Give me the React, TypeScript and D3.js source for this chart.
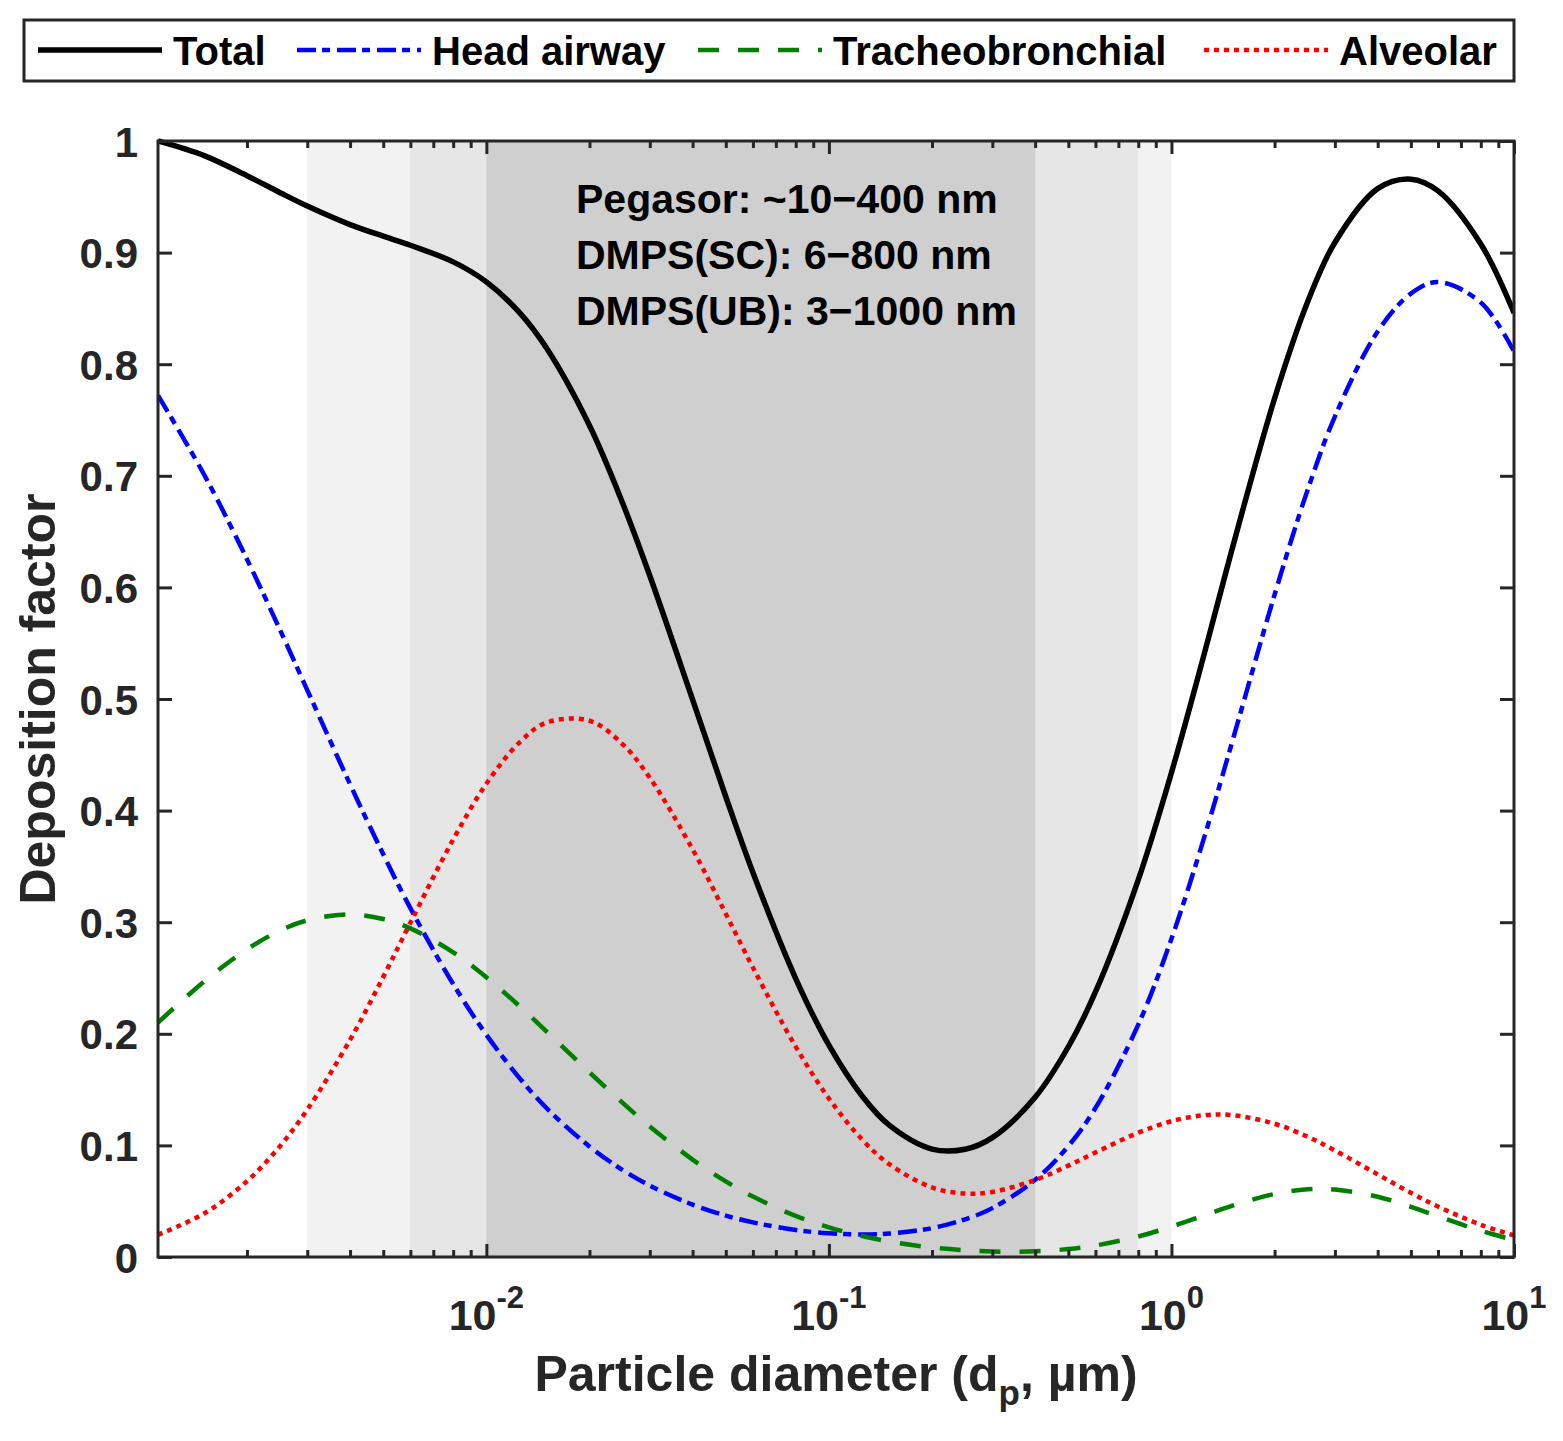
import React, { useEffect, useRef } from "react";
import * as d3 from "d3";

const diameters = [0.0011, 0.0015, 0.002, 0.0025, 0.003, 0.004, 0.005, 0.006, 0.008, 0.01, 0.0125, 0.015, 0.02, 0.025, 0.03, 0.04, 0.05, 0.06, 0.08, 0.1, 0.125, 0.15, 0.2, 0.25, 0.3, 0.4, 0.5, 0.6, 0.8, 1, 1.25, 1.5, 2, 2.5, 3, 4, 5, 6, 8, 10];

const totalDeposition = [1.0, 0.9869, 0.9689, 0.9537, 0.9417, 0.9251, 0.9147, 0.9066, 0.8917, 0.8738, 0.8462, 0.8142, 0.745, 0.6754, 0.6104, 0.4995, 0.4124, 0.3445, 0.2495, 0.1898, 0.1443, 0.1181, 0.0967, 0.0966, 0.107, 0.1432, 0.1884, 0.2375, 0.338, 0.434, 0.5418, 0.6333, 0.7693, 0.8561, 0.9091, 0.9573, 0.9658, 0.9553, 0.9077, 0.8459];
const headAirway = [0.772, 0.701, 0.6253, 0.5617, 0.508, 0.4236, 0.3608, 0.3126, 0.2446, 0.1991, 0.1603, 0.1333, 0.099, 0.0779, 0.064, 0.0469, 0.0371, 0.031, 0.0242, 0.0212, 0.0202, 0.021, 0.0259, 0.0338, 0.0438, 0.0691, 0.0994, 0.1335, 0.2082, 0.2851, 0.3773, 0.4603, 0.5934, 0.6877, 0.7531, 0.8293, 0.8633, 0.8736, 0.8553, 0.8114];
const tracheobronchial = [0.21, 0.2469, 0.2757, 0.2925, 0.3017, 0.3069, 0.3029, 0.2945, 0.273, 0.2506, 0.2247, 0.202, 0.1655, 0.1381, 0.117, 0.0873, 0.0678, 0.0541, 0.0368, 0.0266, 0.0188, 0.0139, 0.0085, 0.006, 0.0049, 0.0051, 0.0071, 0.0103, 0.0184, 0.0272, 0.0374, 0.0458, 0.0565, 0.0607, 0.0605, 0.054, 0.045, 0.0365, 0.0235, 0.0152];
const alveolar = [0.0199, 0.039, 0.0679, 0.0995, 0.132, 0.1946, 0.251, 0.2995, 0.3741, 0.4241, 0.4612, 0.4789, 0.4805, 0.4594, 0.4294, 0.3653, 0.3075, 0.2594, 0.1885, 0.142, 0.1053, 0.0832, 0.0623, 0.0568, 0.0583, 0.069, 0.0819, 0.0937, 0.1114, 0.1217, 0.1271, 0.1272, 0.1194, 0.1077, 0.0955, 0.074, 0.0575, 0.0452, 0.0289, 0.0193];

const seriesNames = ["Total", "Head airway", "Tracheobronchial", "Alveolar"];

// instrument size ranges (µm), widest first
const rangeLow = [0.003, 0.006, 0.01];
const rangeHigh = [1, 0.8, 0.4];
const rangeText = ["Pegasor: ~10\u2212400 nm", "DMPS(SC): 6\u2212800 nm", "DMPS(UB): 3\u22121000 nm"];

const yTicks = [0, 0.1, 0.2, 0.3, 0.4, 0.5, 0.6, 0.7, 0.8, 0.9, 1];
const xMajorTicks = [0.01, 0.1, 1, 10];
const xMajorExponents = ["-2", "-1", "0", "1"];

const W = 1563;
const H = 1441;
const FONT = '"Liberation Sans", Arial, Helvetica, sans-serif';
const AXIS = "#262626";

export default function App() {
  const ref = useRef<SVGSVGElement>(null);

  useEffect(() => {
    document.body.style.margin = "0";
    const svg = d3.select(ref.current);
    svg.selectAll("*").remove();

    const left = 158, right = 1514, top = 141, bottom = 1257;
    const x = d3.scaleLog().domain([0.0011, 10]).range([left, right]);
    const y = d3.scaleLinear().domain([0, 1]).range([bottom, top]);

    svg.append("defs").append("clipPath").attr("id", "plotclip")
      .append("rect").attr("x", left).attr("y", top - 3).attr("width", right - left).attr("height", bottom - top + 3);

    // shaded size ranges
    const shades = ["#f2f2f2", "#e6e6e6", "#cfcfcf"];
    svg.append("g").selectAll("rect").data(rangeLow).join("rect")
      .attr("x", d => x(d))
      .attr("width", (d, i) => x(rangeHigh[i]) - x(d))
      .attr("y", top)
      .attr("height", bottom - top)
      .attr("fill", (d, i) => shades[i]);

    const styles = [
      { color: "#000000", width: 5.5, dash: null },
      { color: "#0000ff", width: 4.5, dash: "19,6,8,7" },
      { color: "#008000", width: 4.5, dash: "21,19" },
      { color: "#ff0000", width: 4.5, dash: "5,5" },
    ];
    const allSeries = [totalDeposition, headAirway, tracheobronchial, alveolar];

    const line = d3.line<number>()
      .x((d, i) => x(diameters[i]))
      .y(d => y(d))
      .curve(d3.curveCatmullRom.alpha(0.5));

    svg.append("g").attr("clip-path", "url(#plotclip)")
      .selectAll("path").data(allSeries).join("path")
      .attr("d", d => line(d))
      .attr("fill", "none")
      .attr("stroke", (d, i) => styles[i].color)
      .attr("stroke-width", (d, i) => styles[i].width)
      .attr("stroke-dasharray", (d, i) => styles[i].dash)
      .attr("stroke-linejoin", "round");

    // range annotation
    svg.append("g").selectAll("text").data(rangeText).join("text")
      .attr("x", 576)
      .attr("y", (d, i) => 213 + i * 56)
      .attr("font-family", FONT)
      .attr("font-weight", "bold")
      .attr("font-size", 41)
      .attr("fill", "#000")
      .text(d => d);

    // axes
    const styleAxis = (g: any) => {
      g.select(".domain").remove();
      g.selectAll("line").attr("stroke", AXIS).attr("stroke-width", 3);
    };

    const minorTicks = x.ticks().filter(v => !xMajorTicks.some(m => Math.abs(m - v) < 1e-9));

    svg.append("g").attr("transform", `translate(0,${bottom})`)
      .call(d3.axisBottom(x).tickValues(xMajorTicks).tickSize(-13).tickFormat(() => ""))
      .call(styleAxis);
    svg.append("g").attr("transform", `translate(0,${bottom})`)
      .call(d3.axisBottom(x).tickValues(minorTicks).tickSize(-7).tickFormat(() => ""))
      .call(styleAxis);
    svg.append("g").attr("transform", `translate(0,${top})`)
      .call(d3.axisTop(x).tickValues(xMajorTicks).tickSize(-13).tickFormat(() => ""))
      .call(styleAxis);
    svg.append("g").attr("transform", `translate(0,${top})`)
      .call(d3.axisTop(x).tickValues(minorTicks).tickSize(-7).tickFormat(() => ""))
      .call(styleAxis);

    const yAxis = svg.append("g").attr("transform", `translate(${left},0)`)
      .call(d3.axisLeft(y).tickValues(yTicks).tickSize(-14).tickPadding(20).tickFormat(d3.format(".1~f") as any))
      .call(styleAxis);
    yAxis.attr("font-family", FONT).attr("font-size", 42).attr("font-weight", "bold");
    yAxis.selectAll("text").attr("fill", AXIS).attr("dy", "0.36em");

    svg.append("g").attr("transform", `translate(${right},0)`)
      .call(d3.axisRight(y).tickValues(yTicks).tickSize(-14).tickFormat(() => ""))
      .call(styleAxis);

    // x tick labels as powers of ten
    const xLabels = svg.append("g").selectAll("text").data(xMajorTicks).join("text")
      .attr("x", d => x(d))
      .attr("y", 1330)
      .attr("text-anchor", "middle")
      .attr("font-family", FONT)
      .attr("font-weight", "bold")
      .attr("fill", AXIS);
    xLabels.append("tspan").attr("font-size", 43).text("10");
    xLabels.append("tspan").attr("font-size", 31).attr("dy", -22).text((d, i) => xMajorExponents[i]);

    svg.append("rect")
      .attr("x", left).attr("y", top).attr("width", right - left).attr("height", bottom - top)
      .attr("fill", "none").attr("stroke", AXIS).attr("stroke-width", 3);

    // axis titles
    const xTitle = svg.append("text")
      .attr("x", (left + right) / 2).attr("y", 1391)
      .attr("text-anchor", "middle")
      .attr("font-family", FONT).attr("font-weight", "bold").attr("font-size", 50)
      .attr("fill", AXIS);
    xTitle.append("tspan").text("Particle diameter (d");
    xTitle.append("tspan").attr("font-size", 35).attr("dy", 14).text("p");
    xTitle.append("tspan").attr("dy", -14).text(", \u00b5m)");

    svg.append("text")
      .attr("transform", `translate(55,${(top + bottom) / 2}) rotate(-90)`)
      .attr("text-anchor", "middle")
      .attr("font-family", FONT).attr("font-weight", "bold").attr("font-size", 50)
      .attr("fill", AXIS)
      .text("Deposition factor");

    // legend
    const legendTextX = [173, 432, 833, 1339];
    const legend = svg.append("g");
    legend.append("rect")
      .attr("x", 24).attr("y", 20).attr("width", 1490).attr("height", 61)
      .attr("fill", "#fff").attr("stroke", AXIS).attr("stroke-width", 3);
    seriesNames.forEach((name, i) => {
      const tx = legendTextX[i];
      legend.append("line")
        .attr("x1", tx - 135).attr("x2", tx - 11).attr("y1", 50).attr("y2", 50)
        .attr("stroke", styles[i].color)
        .attr("stroke-width", styles[i].width)
        .attr("stroke-dasharray", styles[i].dash);
      legend.append("text")
        .attr("x", tx).attr("y", 65)
        .attr("font-family", FONT).attr("font-weight", "bold").attr("font-size", 40)
        .attr("fill", "#000")
        .text(name);
    });
  }, []);

  return <svg ref={ref} width={W} height={H} style={{ display: "block", background: "#fff" }} />;
}
